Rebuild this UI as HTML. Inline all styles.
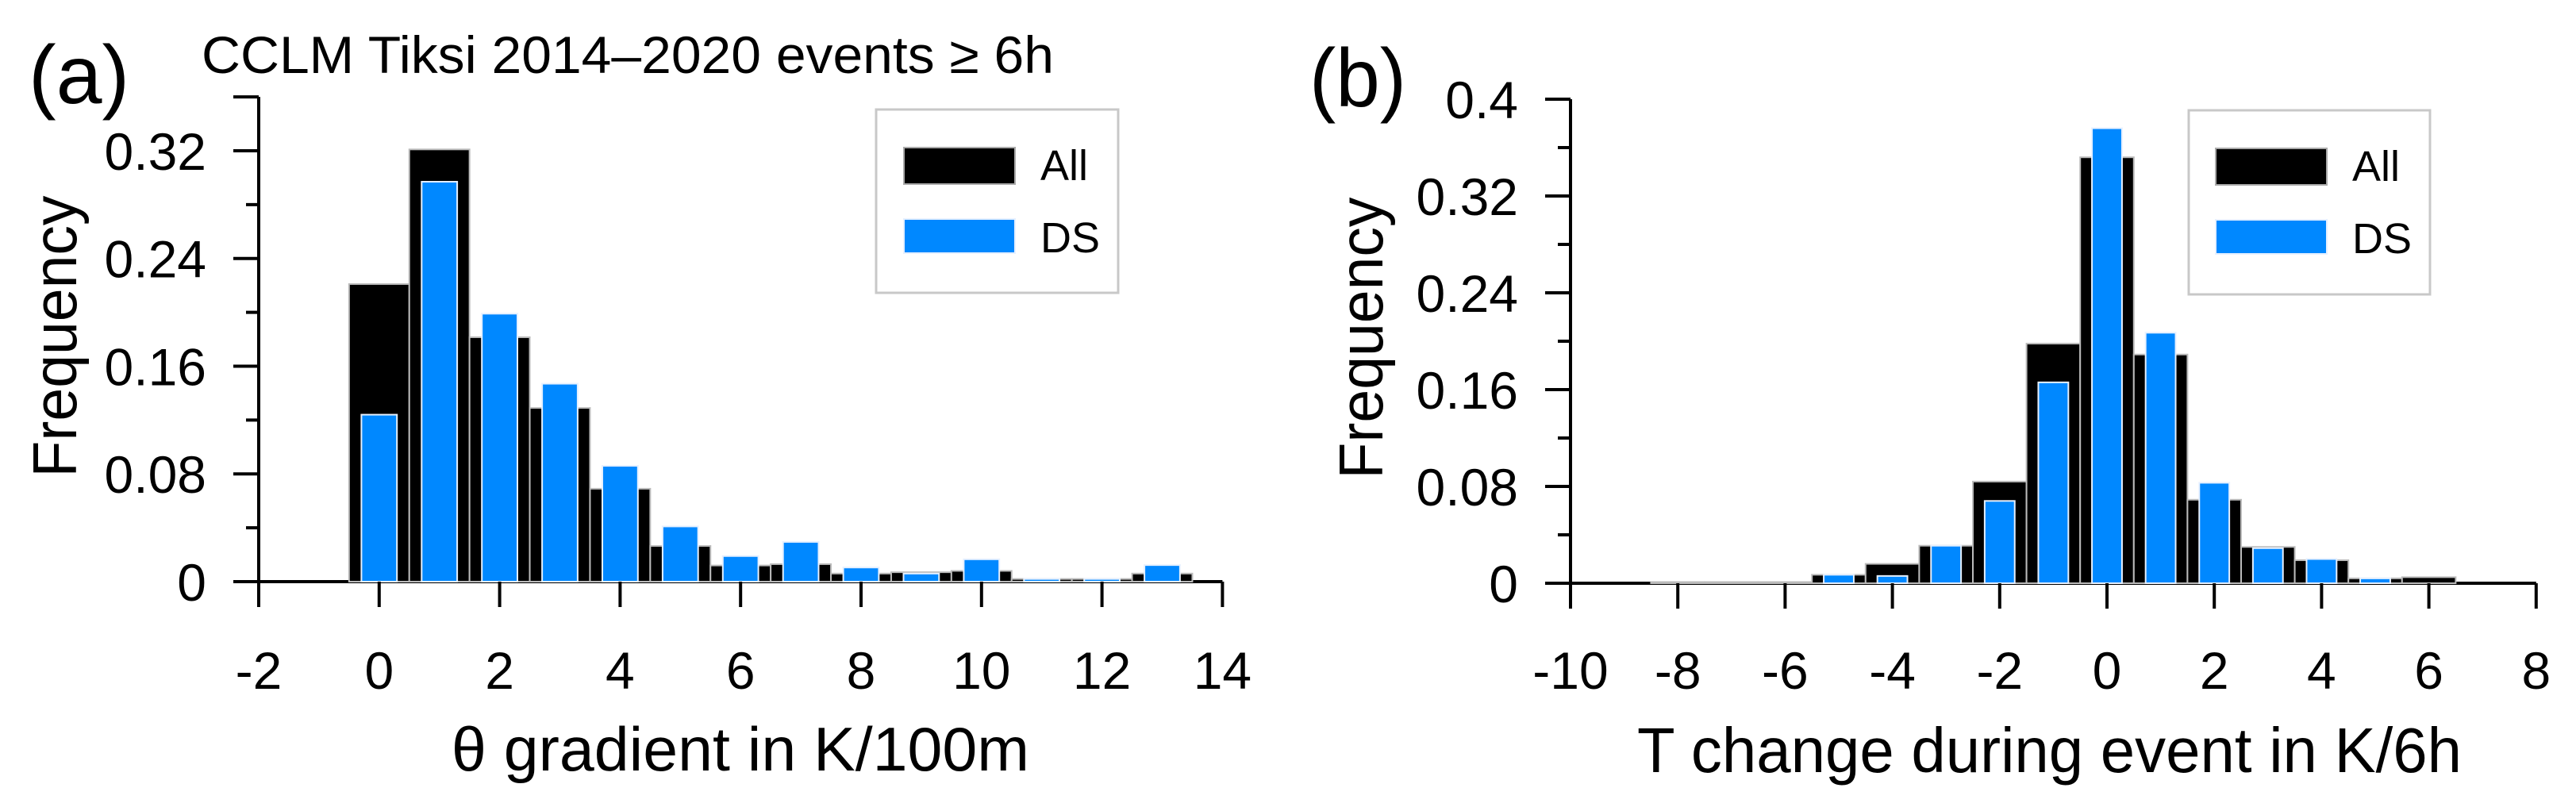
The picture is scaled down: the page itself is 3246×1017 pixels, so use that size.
<!DOCTYPE html>
<html><head><meta charset="utf-8"><style>
html,body{margin:0;padding:0;background:#fff}
svg{display:block}
text{font-family:"Liberation Sans",sans-serif;fill:#000}
</style></head><body>
<svg id="chart" width="3246" height="1017" viewBox="0 0 3246 1017" xmlns="http://www.w3.org/2000/svg">
<rect width="3246" height="1017" fill="#fff"/>
<text x="36" y="130" font-size="104">(a)</text>
<text x="254" y="92" font-size="66" textLength="1074" lengthAdjust="spacingAndGlyphs">CCLM Tiksi 2014–2020 events ≥ 6h</text>
<text x="1650" y="134" font-size="104" textLength="122" lengthAdjust="spacingAndGlyphs">(b)</text>
<text transform="translate(96,424) rotate(-90)" text-anchor="middle" font-size="78" textLength="355" lengthAdjust="spacingAndGlyphs">Frequency</text>
<text transform="translate(1742,426) rotate(-90)" text-anchor="middle" font-size="78" textLength="355" lengthAdjust="spacingAndGlyphs">Frequency</text>
<text x="569" y="971" font-size="78" textLength="728" lengthAdjust="spacingAndGlyphs">θ gradient in K/100m</text>
<text x="2063" y="973" font-size="80" textLength="1039" lengthAdjust="spacingAndGlyphs">T change during event in K/6h</text>
<g id="pa"></g>
<g id="pb"></g>
</svg>
<script>
// Panel a data
const binsA = [0,1,2,3,4,5,6,7,8,9,10,11,12,13];
const allA = [0.221,0.321,0.1815,0.129,0.069,0.0265,0.012,0.013,0.006,0.007,0.008,0.002,0.002,0.006];
const dsA = [0.124,0.297,0.199,0.147,0.086,0.041,0.019,0.0295,0.0105,0.006,0.0166,0.002,0.002,0.0123];
const xTicksA = [-2,0,2,4,6,8,10,12,14];
const yTicksA = [0,0.08,0.16,0.24,0.32];
// Panel b data
const binsB = [-8,-7,-6,-5,-4,-3,-2,-1,0,1,2,3,4,5,6];
const allB = [0.001,0.001,0.001,0.007,0.016,0.031,0.084,0.198,0.352,0.189,0.069,0.030,0.019,0.004,0.005];
const dsB = [0,0,0,0.007,0.006,0.031,0.068,0.166,0.376,0.207,0.083,0.029,0.020,0.004,0];
const xTicksB = [-10,-8,-6,-4,-2,0,2,4,6,8];
const yTicksB = [0,0.08,0.16,0.24,0.32,0.4];

const NS='http://www.w3.org/2000/svg';
function mk(parent,tag,attrs){const e=document.createElementNS(NS,tag);for(const k in attrs)e.setAttribute(k,attrs[k]);parent.appendChild(e);return e;}

function panel(g, cfg, bins, all, ds, xt, yt){
  const X=v=>cfg.x0+(v-cfg.xmin)*cfg.xs;
  const Y=v=>cfg.y0-v*cfg.ys;
  const yTop=Y(cfg.ymax);
  const bl=mk(g,'line',{x1:cfg.blx0,x2:X(cfg.xmax),y1:cfg.y0,y2:cfg.y0,stroke:'#000','stroke-width':4});
  
  
  bins.forEach((b,i)=>{
    if(all[i]<=0) return;
    const r=mk(g,'rect',{x:X(b-0.5),y:Y(all[i]),width:cfg.xs,height:cfg.y0-Y(all[i]),fill:'#000',stroke:'#bbb','stroke-width':2});
    
    
  });
  bins.forEach((b,i)=>{
    if(ds[i]<=0) return;
    const w=cfg.xs*cfg.bw;
    const r=mk(g,'rect',{x:X(b)-w/2,y:Y(ds[i]),width:w,height:cfg.y0-Y(ds[i]),fill:'#0088ff',stroke:'#e6f0ff','stroke-width':2});
    
    
  });
  const ya=mk(g,'line',{x1:X(cfg.xmin),x2:X(cfg.xmin),y1:yTop,y2:cfg.y0+32,stroke:'#000','stroke-width':4});
  
  
  const ax=X(cfg.xmin);
  mk(g,'line',{x1:ax-32,x2:ax,y1:yTop,y2:yTop,stroke:'#000','stroke-width':4});
  yt.forEach((v,i)=>{
    const t=mk(g,'line',{x1:ax-32,x2:ax,y1:Y(v),y2:Y(v),stroke:'#000','stroke-width':4});
    
    
    if(v+0.04<cfg.ymax-0.001){
      const m=mk(g,'line',{x1:ax-16,x2:ax,y1:Y(v+0.04),y2:Y(v+0.04),stroke:'#000','stroke-width':4});
      
      
    }
    const l=mk(g,'text',{x:ax-66,y:Y(v)+24,'text-anchor':'end','font-size':66});
    l.textContent=String(v);
    
    
  });
  xt.forEach(v=>{
    const t=mk(g,'line',{x1:X(v),x2:X(v),y1:cfg.y0,y2:cfg.y0+32,stroke:'#000','stroke-width':4});
    
    
    const l=mk(g,'text',{x:X(v),y:868,'text-anchor':'middle','font-size':66});
    l.textContent=String(v);
    
    
  });
  const L=cfg.leg;
  const box=mk(g,'rect',{x:L.x,y:L.y,width:L.w,height:L.h,fill:'#fff',stroke:'#c8c8c8','stroke-width':3});
  
  
  const s1=mk(g,'rect',{x:L.sx,y:L.y+48,width:140,height:46,fill:'#000',stroke:'#aaa','stroke-width':2});
  
  
  const t1=mk(g,'text',{x:L.sx+172,y:L.y+89,'font-size':54});
  t1.textContent='All';
  
  
  const s2=mk(g,'rect',{x:L.sx,y:L.y+138,width:140,height:43,fill:'#0088ff',stroke:'#e6f0ff','stroke-width':2});
  
  
  const t2=mk(g,'text',{x:L.sx+172,y:L.y+180,'font-size':54});
  t2.textContent='DS';
  
  
}

panel(document.getElementById('pa'),
  {x0:326,xmin:-2,xmax:14,xs:75.9,y0:733,ys:1696.9,ymax:0.36,bw:0.59,blx0:296,
   leg:{x:1104,y:138,w:305,h:231,sx:1139}},
  binsA,allA,dsA,xTicksA,yTicksA);
panel(document.getElementById('pb'),
  {x0:1979,xmin:-10,xmax:8,xs:67.6,y0:735,ys:1525,ymax:0.4,bw:0.56,blx0:1948,
   leg:{x:2758,y:139,w:304,h:232,sx:2792}},
  binsB,allB,dsB,xTicksB,yTicksB);
</script>
</body></html>
